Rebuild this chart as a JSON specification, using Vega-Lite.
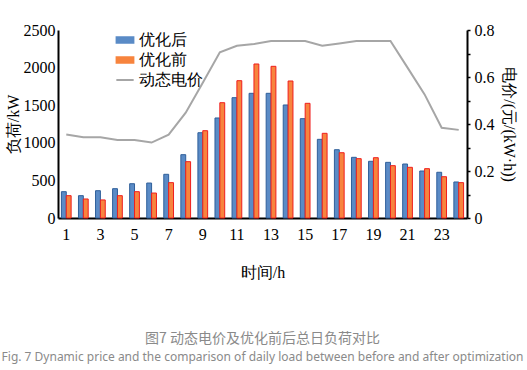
{
  "$schema": "https://vega.github.io/schema/vega-lite/v6.json",
  "width": 409,
  "height": 188,
  "autosize": {"type": "none"},
  "padding": {"left": 58, "top": 30, "right": 60, "bottom": 152},
  "background": "white",
  "config": {
    "view": {"stroke": null},
    "axis": {"grid": false, "domainColor": "black", "domainWidth": 2, "labelColor": "black", "titleColor": "black", "labelFont": "Liberation Serif", "labelFontSize": 16, "titleFont": "Liberation Serif", "titleFontSize": 16, "titleFontWeight": "normal"},
    "legend": {"labelFont": "Liberation Serif"}
  },
  "title": {
    "text": "图7 动态电价及优化前后总日负荷对比",
    "subtitle": "Fig. 7 Dynamic price and the comparison of daily load between before and after optimization",
    "orient": "bottom",
    "anchor": "middle",
    "font": "Noto Sans CJK SC",
    "fontSize": 14,
    "fontWeight": "normal",
    "color": "#8a8a8a",
    "subtitleFont": "Noto Sans",
    "subtitleFontSize": 12,
    "subtitleColor": "#8a8a8a",
    "subtitlePadding": 6,
    "offset": 52
  },
  "data": {
    "values": [
      {"h": 1, "优化后": 350, "优化前": 297, "price": 0.355},
      {"h": 2, "优化后": 297, "优化前": 253, "price": 0.344},
      {"h": 3, "优化后": 363, "优化前": 240, "price": 0.344},
      {"h": 4, "优化后": 390, "优化前": 297, "price": 0.332},
      {"h": 5, "优化后": 456, "优化前": 350, "price": 0.332},
      {"h": 6, "优化后": 465, "优化前": 332, "price": 0.321},
      {"h": 7, "优化后": 581, "优化前": 470, "price": 0.355},
      {"h": 8, "优化后": 842, "优化前": 749, "price": 0.448},
      {"h": 9, "优化后": 1134, "优化前": 1161, "price": 0.576},
      {"h": 10, "优化后": 1330, "优化前": 1533, "price": 0.705},
      {"h": 11, "优化后": 1600, "优化前": 1826, "price": 0.733},
      {"h": 12, "优化后": 1658, "优化前": 2048, "price": 0.74},
      {"h": 13, "优化后": 1658, "优化前": 2017, "price": 0.753},
      {"h": 14, "优化后": 1503, "优化前": 1822, "price": 0.753},
      {"h": 15, "优化后": 1321, "优化前": 1525, "price": 0.753},
      {"h": 16, "优化后": 1046, "优化前": 1126, "price": 0.733},
      {"h": 17, "优化后": 908, "优化前": 868, "price": 0.743},
      {"h": 18, "优化后": 807, "优化前": 789, "price": 0.753},
      {"h": 19, "优化后": 754, "优化前": 802, "price": 0.753},
      {"h": 20, "优化后": 740, "优化前": 696, "price": 0.753},
      {"h": 21, "优化后": 718, "优化前": 674, "price": 0.64},
      {"h": 22, "优化后": 625, "优化前": 656, "price": 0.526},
      {"h": 23, "优化后": 608, "优化前": 549, "price": 0.384},
      {"h": 24, "优化后": 479, "优化前": 470, "price": 0.375}
    ]
  },
  "encoding": {
    "x": {
      "field": "h",
      "type": "ordinal",
      "scale": {"paddingInner": 0.43, "paddingOuter": 0.2},
      "axis": {"title": "时间/h", "values": [1,3,5,7,9,11,13,15,17,19,21,23], "labelAngle": 0, "ticks": false, "labelPadding": 8, "titlePadding": 22}
    }
  },
  "layer": [
    {
      "transform": [{"fold": ["优化后", "优化前"], "as": ["series", "load"]}],
      "mark": {"type": "bar", "strokeWidth": 1},
      "encoding": {
        "xOffset": {"field": "series", "type": "nominal", "sort": ["优化后", "优化前"], "scale": {"paddingInner": 0}},
        "y": {
          "field": "load",
          "type": "quantitative",
          "scale": {"domain": [0, 2500], "nice": false},
          "axis": {"title": "负荷/kW", "values": [0, 500, 1000, 1500, 2000, 2500], "format": "d", "ticks": false, "labelPadding": 3, "titlePadding": 2}
        },
        "color": {
          "field": "series",
          "type": "nominal",
          "scale": {"domain": ["优化后", "优化前", "动态电价"], "range": ["#5a8bc6", "#f7843e", "#a6a6a6"]},
          "legend": {
            "title": null,
            "orient": "none",
            "legendX": 59,
            "legendY": 2,
            "labelFont": "Liberation Serif",
            "labelFontSize": 16,
            "labelColor": "black",
            "symbolSize": 300,
            "rowPadding": 4,
            "labelOffset": 6,
            "encode": {
              "symbols": {
                "update": {
                  "shape": {"signal": "datum.value === '动态电价' ? 'M-1,0L1,0' : 'M-1,-0.35L1,-0.35L1,0.35L-1,0.35Z'"},
                  "fill": {"signal": "datum.value === '优化后' ? '#5a8bc6' : datum.value === '优化前' ? '#f7843e' : 'transparent'"},
                  "stroke": {"signal": "datum.value === '优化后' ? '#2f5f9a' : datum.value === '优化前' ? '#f01e1e' : '#a6a6a6'"},
                  "strokeWidth": {"signal": "datum.value === '动态电价' ? 2 : 1.5"},
                  "opacity": {"value": 1}
                }
              }
            }
          }
        },
        "stroke": {
          "field": "series",
          "type": "nominal",
          "scale": {"domain": ["优化后", "优化前"], "range": ["#2f5f9a", "#f01e1e"]},
          "legend": null
        }
      }
    },
    {
      "mark": {"type": "line", "strokeWidth": 2, "color": "#a6a6a6"},
      "encoding": {
        "y": {
          "field": "price",
          "type": "quantitative",
          "scale": {"domain": [0, 0.8], "nice": false},
          "axis": {"title": "电价/(元/(kW·h))", "orient": "right", "values": [0, 0.1, 0.2, 0.3, 0.4, 0.5, 0.6, 0.7, 0.8], "labelExpr": "datum.value === 0 ? '0' : indexof([0.2, 0.4, 0.6, 0.8], datum.value) >= 0 ? format(datum.value, '.1f') : ''", "labelOverlap": false, "labelBound": false, "tickSize": 3, "tickWidth": 1.5, "tickColor": "black", "labelPadding": 4, "titlePadding": 6}
        },
        "color": {"datum": "动态电价"}
      }
    }
  ],
  "resolve": {"scale": {"y": "independent", "stroke": "independent"}}
}
